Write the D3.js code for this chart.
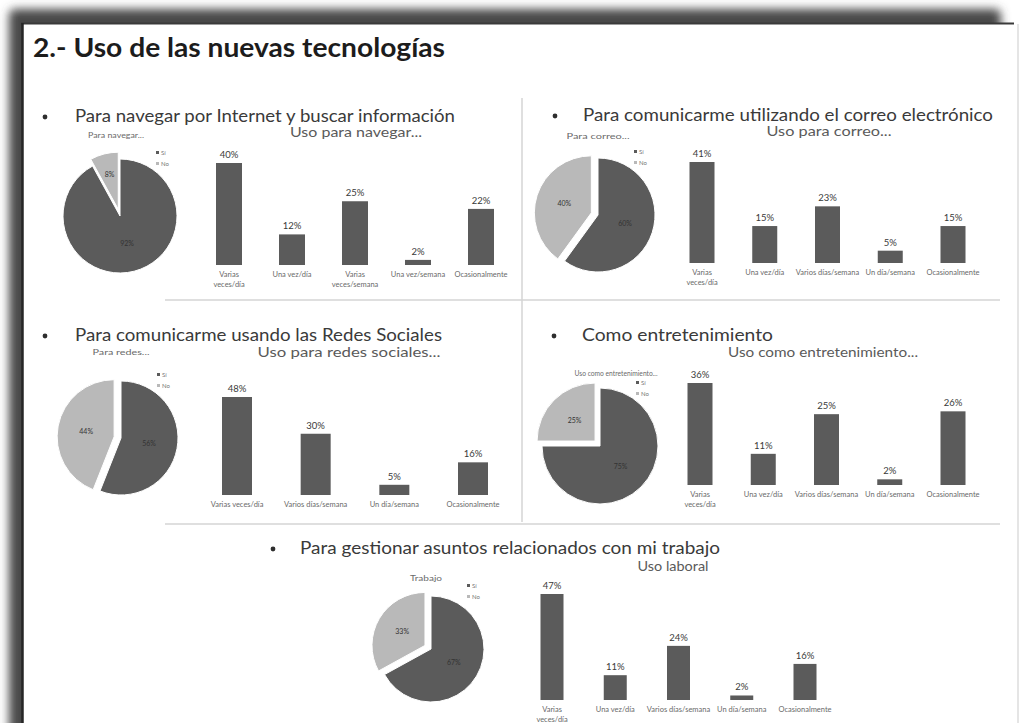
<!DOCTYPE html>
<html>
<head>
<meta charset="utf-8">
<script src="https://cdn.jsdelivr.net/npm/d3@7"></script>
<style>
  html, body { margin: 0; padding: 0; background: #ffffff; }
  svg { display: block; }
</style>
</head>
<body>
<script>
// ---- Content ----
const slideTitle = "2.- Uso de las nuevas tecnologías";

const headings = [
  "Para navegar por Internet y buscar información",
  "Para comunicarme utilizando el correo electrónico",
  "Para comunicarme usando las Redes Sociales",
  "Como entretenimiento",
  "Para gestionar asuntos relacionados con mi trabajo"
];

const barTitles = [
  "Uso para navegar...",
  "Uso para correo...",
  "Uso para redes sociales...",
  "Uso como entretenimiento...",
  "Uso laboral"
];

const pieTitles = ["Para navegar...", "Para correo...", "Para redes...", "Uso como entretenimiento...", "Trabajo"];
const pieLegend = ["Sí", "No"];
const pieYes = [92, 60, 56, 75, 67];
const pieNo  = [8, 40, 44, 25, 33];

const catsNavegar = ["Varias\nveces/día", "Una vez/día", "Varias\nveces/semana", "Una vez/semana", "Ocasionalmente"];
const valsNavegar = [40, 12, 25, 2, 22];

const catsCorreo = ["Varias\nveces/día", "Una vez/día", "Varios días/semana", "Un día/semana", "Ocasionalmente"];
const valsCorreo = [41, 15, 23, 5, 15];

const catsRedes = ["Varias veces/día", "Varios días/semana", "Un día/semana", "Ocasionalmente"];
const valsRedes = [48, 30, 5, 16];

const catsOcio = ["Varias\nveces/día", "Una vez/día", "Varios días/semana", "Un día/semana", "Ocasionalmente"];
const valsOcio = [36, 11, 25, 2, 26];

const catsTrabajo = ["Varias\nveces/día", "Una vez/día", "Varios días/semana", "Un día/semana", "Ocasionalmente"];
const valsTrabajo = [47, 11, 24, 2, 16];

const barCats = [catsNavegar, catsCorreo, catsRedes, catsOcio, catsTrabajo];
const barVals = [valsNavegar, valsCorreo, valsRedes, valsOcio, valsTrabajo];

// ---- Layout of each block ----
const layout = [
  { bullet: [45, 117], head: [75, 122, 380], pie: [120, 216, 57], pieTitle: [116, 138, 56],
    bars: { first: 229, last: 481, w: 26, base: 265, h: 102 }, barTitle: [356, 137, 132] },
  { bullet: [555, 116], head: [583, 121, 410], pie: [598, 215, 57], pieTitle: [598, 139, 63],
    bars: { first: 702, last: 953, w: 25, base: 263, h: 101 }, barTitle: [829, 136, 125] },
  { bullet: [45, 336], head: [75, 341, 367], pie: [121, 438, 57], pieTitle: [121, 355, 57],
    bars: { first: 237, last: 473, w: 30, base: 495, h: 98 }, barTitle: [349, 357, 183] },
  { bullet: [554, 336], head: [582, 341, 191], pie: [600, 446, 58], pieTitle: [616, 376, 83],
    bars: { first: 700, last: 953, w: 25, base: 485, h: 102 }, barTitle: [823, 357, 190] },
  { bullet: [273, 549], head: [300, 554, 420], pie: [431, 649, 53], pieTitle: [426, 581, 32],
    bars: { first: 552, last: 805, w: 23, base: 700, h: 106 }, barTitle: [673, 571, 71] }
];

const W = 1028, H = 723;
const DARK = "#5b5b5b", LIGHT = "#b9b9b9";
const FONT = "Lato, 'Open Sans', 'DejaVu Sans', sans-serif";

const svg = d3.select("body").append("svg")
  .attr("width", W).attr("height", H)
  .attr("font-family", FONT);

const defs = svg.append("defs");
defs.append("filter").attr("id", "shadow")
  .attr("x", "-5%").attr("y", "-5%").attr("width", "110%").attr("height", "110%")
  .append("feGaussianBlur").attr("stdDeviation", 5);

// ---- Slide frame with its drop shadow ----
svg.append("rect").attr("x", 0).attr("y", 0).attr("width", W).attr("height", H).attr("fill", "#ffffff");
svg.append("rect")
  .attr("x", 9).attr("y", 9).attr("width", 992).attr("height", 760)
  .attr("rx", 6)
  .attr("fill", "#4a4a4a").attr("filter", "url(#shadow)");
svg.append("rect")
  .attr("x", 22).attr("y", 23).attr("width", 996).attr("height", 720)
  .attr("fill", "#ffffff");
svg.append("line").attr("x1", 1018).attr("x2", 1018).attr("y1", 24).attr("y2", H)
  .attr("stroke", "#dcdcdc").attr("stroke-width", 1.5);
svg.append("line").attr("x1", 21).attr("x2", 1014).attr("y1", 23.5).attr("y2", 23.5)
  .attr("stroke", "#3a3a3a").attr("stroke-width", 2);
svg.append("line").attr("x1", 22.5).attr("x2", 22.5).attr("y1", 23).attr("y2", H)
  .attr("stroke", "#262626").attr("stroke-width", 2.5);

// ---- Title ----
svg.append("text")
  .attr("x", 33).attr("y", 57)
  .attr("font-size", 26).attr("font-weight", 700).attr("fill", "#1c1c1c")
  .attr("textLength", 412).attr("lengthAdjust", "spacingAndGlyphs")
  .text(slideTitle);

// ---- Separators between blocks ----
const sep = svg.append("g").attr("stroke", "#d4d4d4").attr("stroke-width", 1.5);
sep.append("line").attr("x1", 522).attr("x2", 522).attr("y1", 98).attr("y2", 522);
sep.append("line").attr("x1", 165).attr("x2", 1000).attr("y1", 300).attr("y2", 300);
sep.append("line").attr("x1", 165).attr("x2", 1000).attr("y1", 524).attr("y2", 524);

// ---- Blocks ----
layout.forEach((L, i) => {
  const g = svg.append("g");

  // heading with bullet
  g.append("circle").attr("cx", L.bullet[0]).attr("cy", L.bullet[1]).attr("r", 2.4).attr("fill", "#2e2e2e");
  g.append("text")
    .attr("x", L.head[0]).attr("y", L.head[1])
    .attr("font-size", 16.5).attr("fill", "#3a3a3a")
    .attr("textLength", L.head[2]).attr("lengthAdjust", "spacingAndGlyphs")
    .text(headings[i]);

  // ---- pie ----
  const [cx, cy, r] = L.pie;
  const pieData = [
    { key: pieLegend[0], value: pieYes[i], color: DARK },
    { key: pieLegend[1], value: pieNo[i], color: LIGHT }
  ];
  const arcs = d3.pie().sort(null).value(d => d.value)(pieData);
  const arc = d3.arc().innerRadius(0).outerRadius(r);
  const labelArc = d3.arc().innerRadius(r * 0.5).outerRadius(r * 0.5);
  const smallArc = d3.arc().innerRadius(r * 0.62).outerRadius(r * 0.62);
  const pg = g.append("g").attr("transform", `translate(${cx},${cy})`);
  const explode = 7;
  const sl = pg.selectAll("g.slice").data(arcs).join("g")
    .attr("class", "slice")
    .attr("transform", d => {
      if (d.index === 0) return null;
      const a = (d.startAngle + d.endAngle) / 2;
      return `translate(${Math.sin(a) * explode},${-Math.cos(a) * explode})`;
    });
  sl.append("path").attr("d", arc)
    .attr("fill", d => d.data.color)
    .attr("stroke", "#ffffff").attr("stroke-width", 1);
  sl.append("text")
    .attr("transform", d => `translate(${(d.data.value < 12 ? smallArc : labelArc).centroid(d)})`)
    .attr("text-anchor", "middle").attr("dy", "0.35em")
    .attr("font-size", 7).attr("fill", "#333333")
    .text(d => d.data.value + "%");

  g.append("text")
    .attr("x", L.pieTitle[0]).attr("y", L.pieTitle[1])
    .attr("text-anchor", "middle").attr("font-size", 8).attr("fill", "#6a6a6a")
    .attr("textLength", L.pieTitle[2]).attr("lengthAdjust", "spacingAndGlyphs")
    .text(pieTitles[i]);

  // legend
  const lg = g.append("g").attr("transform", `translate(${cx + 36},${cy - 63})`);
  pieData.forEach((d, k) => {
    lg.append("rect").attr("x", 0).attr("y", k * 11 - 2).attr("width", 3).attr("height", 3).attr("fill", d.color);
    lg.append("text").attr("x", 5).attr("y", k * 11 + 1.5)
      .attr("font-size", 6).attr("fill", "#777777").text(d.key);
  });

  // ---- bars ----
  const B = L.bars;
  const cats = barCats[i], vals = barVals[i];
  const n = cats.length;
  const step = (B.last - B.first) / (n - 1);
  const pad = 1 - B.w / step;
  const x = d3.scaleBand().domain(cats)
    .range([B.first - step / 2, B.last + step / 2])
    .paddingInner(pad).paddingOuter(pad / 2);
  const y = d3.scaleLinear().domain([0, d3.max(vals)]).range([B.base, B.base - B.h]);

  const bg = g.append("g");
  bg.selectAll("rect").data(vals).join("rect")
    .attr("x", (d, k) => x(cats[k]))
    .attr("y", d => y(d))
    .attr("width", x.bandwidth())
    .attr("height", d => B.base - y(d))
    .attr("fill", DARK);

  bg.selectAll("text.val").data(vals).join("text")
    .attr("class", "val")
    .attr("x", (d, k) => x(cats[k]) + x.bandwidth() / 2)
    .attr("y", d => y(d) - 5)
    .attr("text-anchor", "middle").attr("font-size", 9.5).attr("fill", "#3a3a3a")
    .text(d => d + "%");

  // category axis labels
  const axis = d3.axisBottom(x).tickSize(0).tickPadding(0).tickFormat("");
  const ax = bg.append("g").attr("transform", `translate(0,${B.base})`).call(axis);
  ax.select(".domain").remove();
  ax.selectAll(".tick").each(function(c) {
    const t = d3.select(this).append("text")
      .attr("y", 12).attr("text-anchor", "middle")
      .attr("font-size", 7.5).attr("fill", "#6a6a6a")
      .attr("font-family", FONT);
    c.split("\n").forEach((line, li) => {
      t.append("tspan").attr("x", 0).attr("dy", li === 0 ? 0 : 10).text(line);
    });
  });

  g.append("text")
    .attr("x", L.barTitle[0]).attr("y", L.barTitle[1])
    .attr("text-anchor", "middle").attr("font-size", 12.5).attr("fill", "#5a5a5a")
    .attr("textLength", L.barTitle[2]).attr("lengthAdjust", "spacingAndGlyphs")
    .text(barTitles[i]);
});
</script>
</body>
</html>
